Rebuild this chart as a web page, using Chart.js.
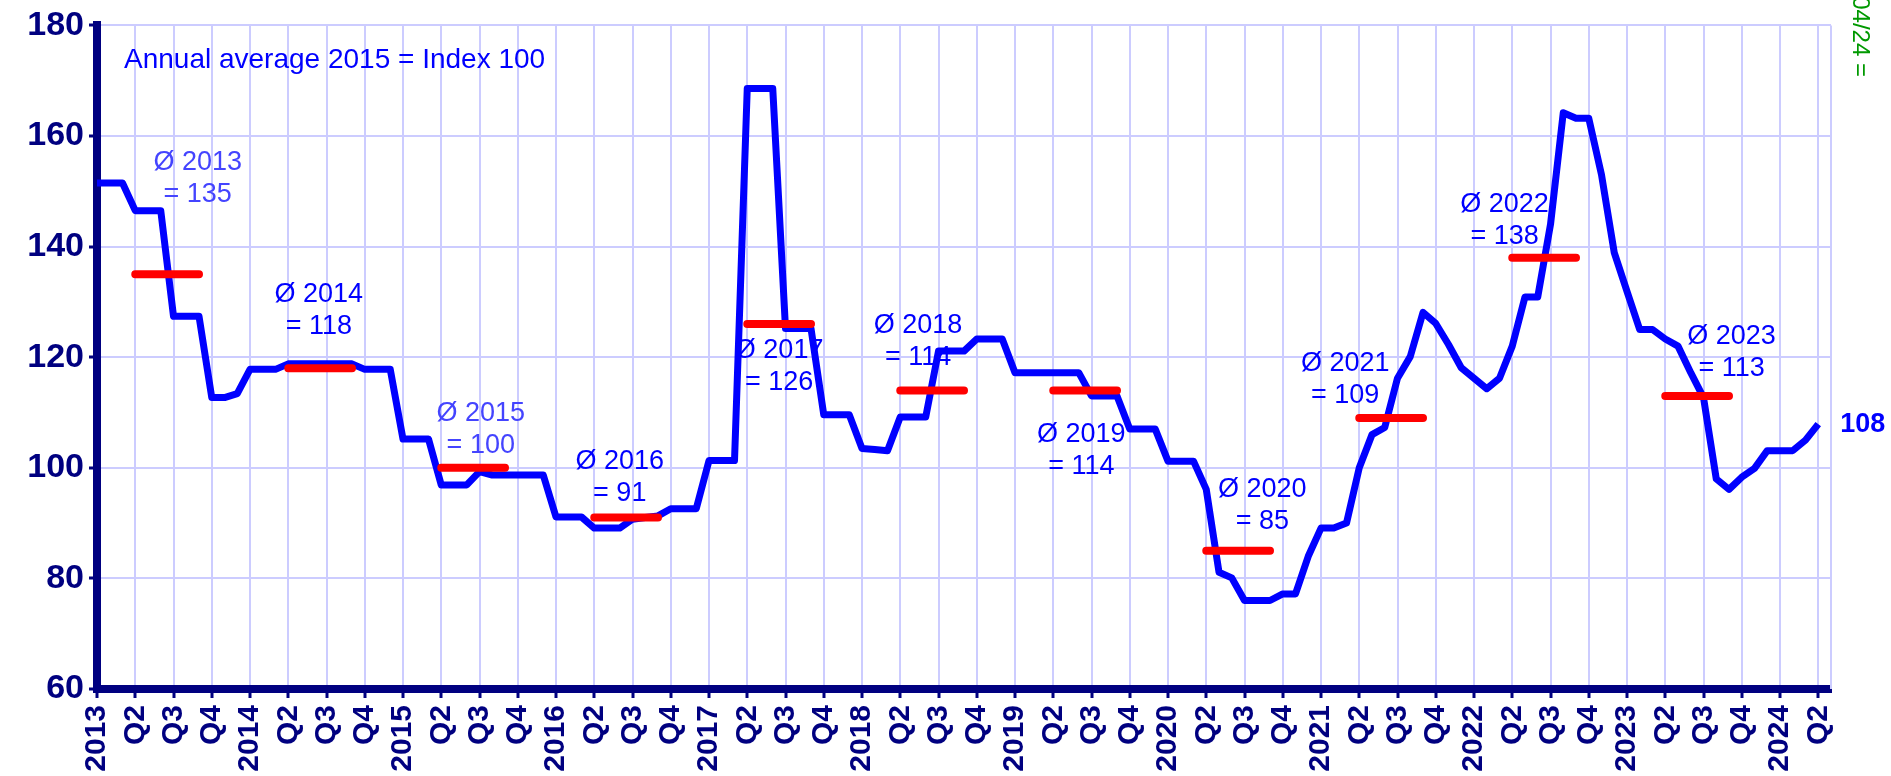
<!DOCTYPE html>
<html>
<head>
<meta charset="utf-8">
<script src="https://cdn.jsdelivr.net/npm/chart.js@4"></script>
<style>
  html, body { margin: 0; padding: 0; background: #fff; }
</style>
</head>
<body>
<canvas id="index" width="1891" height="776"></canvas>
<script>
// quarter tick labels, one every three months, starting January 2013
const tickLabels = [
  "2013", "Q2", "Q3", "Q4", "2014", "Q2", "Q3", "Q4", "2015", "Q2", "Q3", "Q4",
  "2016", "Q2", "Q3", "Q4", "2017", "Q2", "Q3", "Q4", "2018", "Q2", "Q3", "Q4",
  "2019", "Q2", "Q3", "Q4", "2020", "Q2", "Q3", "Q4", "2021", "Q2", "Q3", "Q4",
  "2022", "Q2", "Q3", "Q4", "2023", "Q2", "Q3", "Q4", "2024", "Q2"
];

// monthly index values, Jan 2013 .. Apr 2024
const indexValues = [
  151.5, 151.5, 151.5, 146.5, 146.5, 146.5, 127.4, 127.4, 127.4, 112.7, 112.7, 113.4,
  117.8, 117.8, 117.8, 118.8, 118.8, 118.8, 118.8, 118.8, 118.8, 117.8, 117.8, 117.8,
  105.2, 105.2, 105.2, 96.9, 96.9, 96.9, 99.3, 98.7, 98.7, 98.7, 98.7, 98.7,
  91.1, 91.1, 91.1, 89.1, 89.1, 89.1, 90.7, 91.0, 91.3, 92.6, 92.6, 92.6,
  101.3, 101.3, 101.3, 168.6, 168.6, 168.6, 125.2, 125.2, 125.2, 109.6, 109.6, 109.6,
  103.5, 103.3, 103.1, 109.2, 109.2, 109.2, 121.1, 121.1, 121.1, 123.3, 123.3, 123.3,
  117.2, 117.2, 117.2, 117.2, 117.2, 117.2, 113.0, 113.0, 113.0, 107.0, 107.0, 107.0,
  101.2, 101.2, 101.2, 96.1, 81.1, 80.1, 76.0, 76.0, 76.0, 77.2, 77.2, 84.0,
  89.1, 89.1, 90.0, 100.0, 106.0, 107.3, 116.2, 120.1, 128.1, 126.1, 122.3, 118.1,
  116.2, 114.3, 116.2, 122.0, 130.9, 130.9, 144.0, 164.2, 163.2, 163.2, 153.0, 138.9,
  131.9, 125.0, 125.0, 123.3, 122.0, 117.2, 112.7, 98.0, 96.1, 98.3, 99.9, 103.1,
  103.1, 103.1, 105.0, 107.9
];

// annual averages
const avgYears = [2013, 2014, 2015, 2016, 2017, 2018, 2019, 2020, 2021, 2022, 2023];
const avgValues = [135, 118, 100, 91, 126, 114, 114, 85, 109, 138, 113];

// where the "Ø year = value" notes sit, in [month, index] units
const avgLabelPos = [
  [7.9, 152.3], [17.4, 128.5], [30.1, 106.9], [41.0, 98.3], [53.5, 118.3], [64.4, 122.8],
  [77.2, 103.2], [91.4, 93.1], [97.9, 115.9], [110.4, 144.8], [128.2, 120.8]
];
const avgLabelColors = [
  "#4444ff", "#0000ff", "#4444ff", "#0000ff", "#0000ff", "#0000ff",
  "#0000ff", "#0000ff", "#0000ff", "#0000ff", "#0000ff"
];

const baseNote = "Annual average 2015 = Index 100";
const sideNote = "Index 04/24 =";

const FONT = '"Liberation Sans", Arial, Helvetica, sans-serif';
const NAVY = "#000080";
const GRID = "#ccccff";

// red bars run from the Q2 tick to two months past the Q3 tick
const avgPoints = [];
avgYears.forEach((yr, i) => {
  const start = (yr - 2013) * 12;
  avgPoints.push({ x: start + 3, y: avgValues[i] });
  avgPoints.push({ x: start + 8, y: avgValues[i] });
  avgPoints.push({ x: start + 9, y: null });
});

const notes = {
  id: "notes",
  beforeDatasetsDraw(chart) {
    const { ctx, chartArea } = chart;
    const x = chart.scales.x;
    const y = chart.scales.y;
    ctx.save();
    ctx.strokeStyle = GRID;
    ctx.lineWidth = 2;
    ctx.beginPath();
    ctx.moveTo(chartArea.right, chartArea.top);
    ctx.lineTo(chartArea.right, chartArea.bottom);
    ctx.stroke();

    // the average notes sit under the lines
    ctx.textBaseline = "middle";
    ctx.font = "27px " + FONT;
    ctx.textAlign = "center";
    avgYears.forEach((yr, i) => {
      const px = x.getPixelForValue(avgLabelPos[i][0]);
      const py = y.getPixelForValue(avgLabelPos[i][1]);
      ctx.fillStyle = avgLabelColors[i];
      ctx.fillText("Ø " + yr, px, py - 16);
      ctx.fillText("= " + avgValues[i], px, py + 16);
    });

    ctx.font = "28px " + FONT;
    ctx.fillStyle = "#0000ff";
    ctx.textAlign = "left";
    ctx.fillText(baseNote, chartArea.left + 27, chartArea.top + 35);
    ctx.restore();
  },
  afterDatasetsDraw(chart) {
    const { ctx, chartArea } = chart;
    const x = chart.scales.x;
    const y = chart.scales.y;
    ctx.save();
    ctx.textBaseline = "middle";

    const last = indexValues.length - 1;
    ctx.font = "bold 27px " + FONT;
    ctx.textAlign = "left";
    ctx.fillStyle = "#0000ff";
    ctx.fillText(String(Math.round(indexValues[last])),
      x.getPixelForValue(last) + 22, y.getPixelForValue(indexValues[last]));

    ctx.translate(chartArea.right + 29, 77);
    ctx.rotate(Math.PI / 2);
    ctx.font = "24px " + FONT;
    ctx.fillStyle = "#009900";
    ctx.textAlign = "right";
    ctx.fillText(sideNote, 0, 0);
    ctx.restore();
  }
};

new Chart(document.getElementById("index"), {
  type: "line",
  data: {
    datasets: [
      {
        data: avgPoints,
        borderColor: "#ff0000",
        borderWidth: 8,
        borderCapStyle: "round",
        pointRadius: 0,
        spanGaps: false,
      },
      {
        data: indexValues.map((v, i) => ({ x: i, y: v })),
        borderColor: "#0000ff",
        borderWidth: 7,
        borderJoinStyle: "round",
        pointRadius: 0,
        tension: 0,
      },
    ],
  },
  options: {
    responsive: false,
    animation: false,
    layout: { padding: { top: 22, right: 60, left: 0, bottom: 0 } },
    plugins: { legend: { display: false }, tooltip: { enabled: false } },
    scales: {
      x: {
        type: "linear",
        min: 0,
        max: 136,
        afterBuildTicks: (s) => { s.ticks = tickLabels.map((_, i) => ({ value: i * 3 })); },
        afterFit: (s) => { s.height = 87; },
        ticks: {
          autoSkip: false,
          minRotation: 90,
          maxRotation: 90,
          padding: 7,
          color: NAVY,
          font: { family: FONT, size: 30, weight: "bold" },
          callback: (v) => tickLabels[Math.round(v / 3)],
        },
        grid: { color: GRID, lineWidth: 2, tickColor: NAVY, tickLength: 9, tickWidth: 3 },
        border: { color: NAVY, width: 8 },
      },
      y: {
        min: 60,
        max: 180,
        afterFit: (s) => { s.width = 97; },
        ticks: {
          stepSize: 20,
          padding: 5,
          color: NAVY,
          font: { family: FONT, size: 34, weight: "bold" },
        },
        grid: { color: GRID, lineWidth: 2, tickColor: NAVY, tickLength: 8, tickWidth: 3 },
        border: { color: NAVY, width: 8 },
      },
    },
  },
  plugins: [notes],
});
</script>
</body>
</html>
